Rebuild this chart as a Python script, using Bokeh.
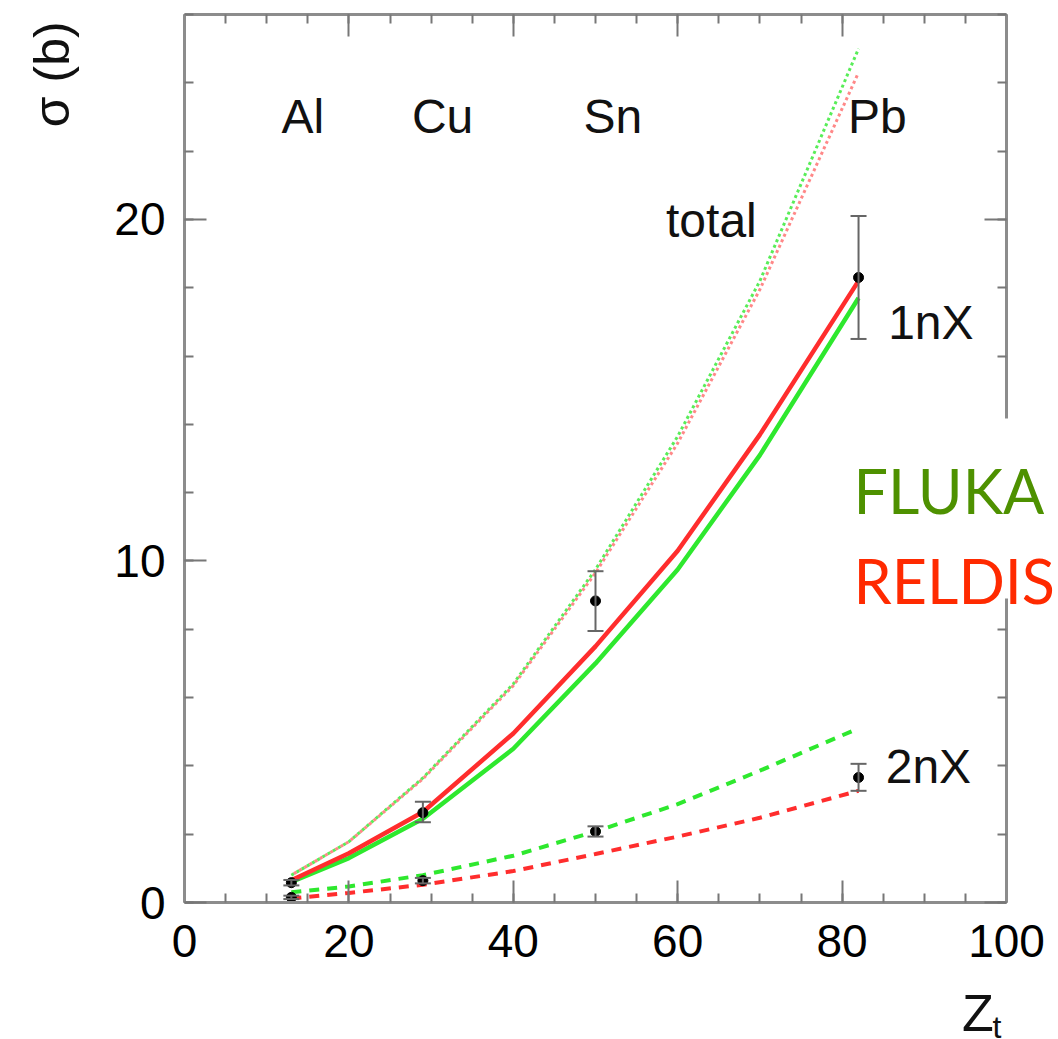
from math import pi

from bokeh.embed import file_html
from bokeh.models import (BoxAnnotation, ColumnDataSource, Label, LinearAxis,
                          Range1d, SingleIntervalTicker, TeeHead, Whisker)
from bokeh.plotting import figure
from bokeh.resources import INLINE

# Model curves, cross section (barn) versus target charge Z_t
z_curve = [13, 20, 29, 40, 50, 60, 70, 82]
fluka_total = [0.80, 1.78, 3.65, 6.40, 9.75, 13.65, 18.2, 25.0]
reldis_total = [0.80, 1.78, 3.62, 6.35, 9.65, 13.45, 17.95, 24.3]
fluka_1nx = [0.60, 1.30, 2.45, 4.50, 7.00, 9.75, 13.1, 17.7]
reldis_1nx = [0.65, 1.44, 2.65, 4.95, 7.50, 10.3, 13.7, 18.2]
fluka_2nx = [0.30, 0.47, 0.80, 1.37, 2.08, 2.88, 3.86, 5.10]
reldis_2nx = [0.12, 0.28, 0.52, 0.92, 1.42, 1.93, 2.48, 3.27]

# Measured points: Al, Cu, Sn, Pb
targets = ["Al", "Cu", "Sn", "Pb"]
z_data = [13, 29, 50, 82]
meas_1nx = [0.58, 2.63, 8.83, 18.3]
meas_1nx_lo = [0.50, 2.35, 7.95, 16.5]
meas_1nx_hi = [0.66, 2.95, 9.70, 20.1]
meas_2nx = [0.15, 0.64, 2.08, 3.66]
meas_2nx_lo = [0.10, 0.56, 1.93, 3.27]
meas_2nx_hi = [0.20, 0.72, 2.23, 4.06]

# Annotation positions (data coordinates)
target_label_x = [14.4, 31.4, 52.1, 84.3]
target_label_y = 23.0

GREEN = "#2ee82e"
RED = "#ff2d2d"
AXIS_GREY = "#8c8c8c"
TICK_GREY = "#777777"
FONT = "Liberation Sans"

# The frame fills the whole canvas; axes sit at fixed data positions so the
# titles and legend texts around the box can be placed freely.
W, H = 1058, 1039
PX_X = 8.22      # pixels per unit of Z
PX_Y = 34.1538   # pixels per barn
X0_PX, Y0_PX = 184, 902

p = figure(width=W, height=H, output_backend="svg", toolbar_location=None,
           title=None,
           x_range=Range1d(-X0_PX / PX_X, (W - X0_PX) / PX_X),
           y_range=Range1d(-(H - Y0_PX) / PX_Y, Y0_PX / PX_Y),
           x_axis_type=None, y_axis_type=None, min_border=0)
p.outline_line_color = None
p.grid.visible = False
p.background_fill_color = "white"
p.border_fill_color = "white"


def make_axis(interval, minors, loc, bounds, show_labels, standoff=0):
    ax = LinearAxis(ticker=SingleIntervalTicker(interval=interval,
                                                num_minor_ticks=minors),
                    fixed_location=loc, bounds=bounds)
    ax.axis_line_color = AXIS_GREY
    ax.axis_line_width = 3
    ax.major_tick_line_color = TICK_GREY
    ax.major_tick_line_width = 2
    ax.minor_tick_line_color = TICK_GREY
    ax.minor_tick_line_width = 2
    ax.major_tick_in = 22
    ax.major_tick_out = 0
    ax.minor_tick_in = 9
    ax.minor_tick_out = 0
    if show_labels:
        ax.major_label_text_font = FONT
        ax.major_label_text_font_size = "46px"
        ax.major_label_text_color = "black"
        ax.major_label_standoff = standoff
    else:
        ax.major_label_text_color = None
        ax.major_label_standoff = 0
    return ax


p.add_layout(make_axis(20, 4, 0, (0, 100), True, 22), "below")
p.add_layout(make_axis(10, 5, 0, (0, 26), True, 19), "left")
p.add_layout(make_axis(20, 4, 26, (0, 100), False), "above")
p.add_layout(make_axis(10, 5, 100, (0, 26), False), "right")

# total (dotted)
p.line(z_curve, fluka_total, line_color=GREEN, line_width=3, line_dash="3 3",
       line_alpha=0.8)
p.line(z_curve, reldis_total, line_color="#ff6a6a", line_width=3, line_dash="3 3",
       line_dash_offset=3, line_alpha=0.8)

# 1nX (solid)
p.line(z_curve, fluka_1nx, line_color=GREEN, line_width=4.5)
p.line(z_curve, reldis_1nx, line_color=RED, line_width=4.5)

# 2nX (dashed)
p.line(z_curve, fluka_2nx, line_color=GREEN, line_width=4, line_dash="10 8")
p.line(z_curve, reldis_2nx, line_color=RED, line_width=4, line_dash="10 8")

# data with error bars
src = ColumnDataSource(dict(z=z_data, y1=meas_1nx, lo1=meas_1nx_lo, hi1=meas_1nx_hi,
                            y2=meas_2nx, lo2=meas_2nx_lo, hi2=meas_2nx_hi))
for lo, hi in (("lo1", "hi1"), ("lo2", "hi2")):
    w = Whisker(source=src, base="z", lower=lo, upper=hi, dimension="height",
                line_color="#666666", line_width=2,
                upper_head=TeeHead(size=16, line_color="#666666", line_width=2),
                lower_head=TeeHead(size=16, line_color="#666666", line_width=2))
    w.level = "glyph"
    p.add_layout(w)
p.scatter("z", "y1", source=src, size=10, color="black")
p.scatter("z", "y2", source=src, size=10, color="black")

# target names
for name, tx in zip(targets, target_label_x):
    p.add_layout(Label(x=tx, y=target_label_y, text=name, text_font=FONT,
                       text_font_size="48px", text_align="center",
                       text_baseline="alphabetic", text_color="#111111"))

for txt, tx, ty in (("total", 64.1, 19.97),
                    ("1nX", 90.8, 16.98),
                    ("2nX", 90.5, 3.98)):
    p.add_layout(Label(x=tx, y=ty, text=txt, text_font=FONT, text_font_size="48px",
                       text_align="center", text_baseline="alphabetic",
                       text_color="#111111"))

# axis titles
p.add_layout(Label(x=-16.1, y=24.25, text="σ (b)", angle=pi / 2, text_font=FONT,
                   text_font_size="50px", text_align="center",
                   text_baseline="middle", text_color="#111111"))
p.add_layout(Label(x=94.6, y=-3.25, text="Z", text_font=FONT, text_font_size="52px",
                   text_align="left", text_baseline="alphabetic",
                   text_color="#111111"))
p.add_layout(Label(x=98.3, y=-3.65, text="t", text_font=FONT, text_font_size="32px",
                   text_align="left", text_baseline="alphabetic",
                   text_color="#111111"))

# model legend on a white patch that hides the right frame edge behind it
p.add_layout(BoxAnnotation(left=82.5, bottom=8.9, top=14.17, fill_color="white",
                           fill_alpha=1.0, line_color=None))
p.add_layout(Label(x=81.4, y=12.06, text="FLUKA", text_font="Lato",
                   text_font_size="61px", text_color="#4e9100",
                   text_baseline="alphabetic"))
p.add_layout(Label(x=81.4, y=9.43, text="RELDIS", text_font="Lato",
                   text_font_size="61px", text_color="#ff2a00",
                   text_baseline="alphabetic"))

open("out.html", "w").write(file_html(p, INLINE))
